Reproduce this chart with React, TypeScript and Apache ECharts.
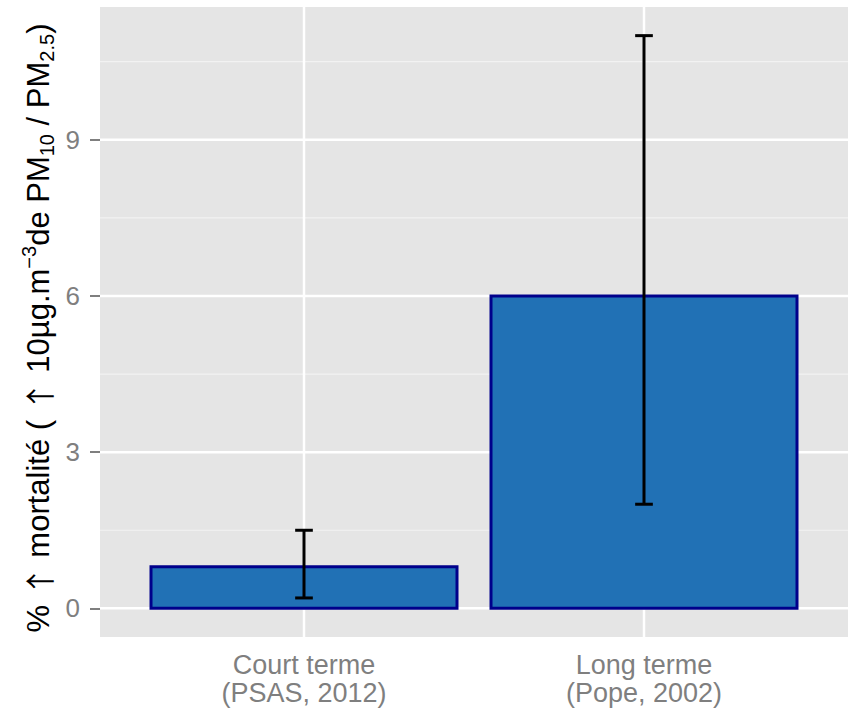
import React, { useEffect, useRef } from "react";
import * as echarts from "echarts";

const categories = ["Court terme\n(PSAS, 2012)", "Long terme\n(Pope, 2002)"];
const xPositions = [1, 2];
const values = [0.8, 6];
const errLow = [0.2, 2];
const errHigh = [1.5, 11];
const yMajorTicks = [0, 3, 6, 9];
const yMinorTicks = [1.5, 4.5, 7.5, 10.5];

const FONT = "Liberation Sans, Arial, sans-serif";

export default function App() {
  const ref = useRef<HTMLDivElement>(null);
  useEffect(() => {
    if (!ref.current) return;
    const chart = echarts.init(ref.current, null, { renderer: "svg" });
    const barData = xPositions.map((x, i) => [x, values[i]]);
    const errData = xPositions.map((x, i) => [x, errLow[i], errHigh[i]]);
    const gridData = [
      ...yMinorTicks.map((v) => [0, v, 0]),
      ...yMajorTicks.map((v) => [0, v, 1]),
      ...xPositions.map((v) => [1, v, 1]),
    ];
    const option: any = {
      animation: false,
      textStyle: { fontFamily: FONT },
      grid: {
        left: 100,
        right: 1,
        top: 7,
        bottom: 74,
        show: true,
        backgroundColor: "#E5E5E5",
        borderWidth: 0,
      },
      xAxis: {
        type: "value",
        min: 0.4,
        max: 2.6,
        axisLine: { show: false },
        splitLine: { show: false },
        axisTick: {
          show: true,
          customValues: xPositions,
          length: 10,
          lineStyle: { color: "#7F7F7F", width: 2 },
        },
        axisLabel: {
          customValues: xPositions,
          formatter: (v: number) => categories[Math.round(v) - 1] ?? "",
          color: "#7F7F7F",
          fontSize: 27,
          lineHeight: 28,
          margin: 14,
          fontFamily: FONT,
        },
      },
      yAxis: {
        type: "value",
        min: -0.55,
        max: 11.55,
        axisLine: { show: false },
        splitLine: { show: false },
        axisTick: {
          show: true,
          customValues: yMajorTicks,
          length: 10,
          lineStyle: { color: "#7F7F7F", width: 2 },
        },
        axisLabel: {
          customValues: yMajorTicks,
          color: "#7F7F7F",
          fontSize: 26,
          margin: 20,
          fontFamily: FONT,
        },
      },
      graphic: [
        {
          type: "text",
          x: 38,
          y: 328,
          rotation: Math.PI / 2,
          style: {
            text: "% {arr|\u2191} mortalité ( {arr|\u2191} 10µg.m{sup|\u22123}de PM{sub|10} / PM{sub|2.5})",
            font: `31px ${FONT}`,
            fill: "#000000",
            align: "center",
            verticalAlign: "middle",
            lineHeight: 38,
            rich: {
              arr: { fontSize: 30, fontFamily: "Noto Sans CJK SC", fill: "#000", lineHeight: 38 },
              sup: { fontSize: 20, fontFamily: FONT, verticalAlign: "top", lineHeight: 20, fill: "#000" },
              sub: { fontSize: 20, fontFamily: FONT, verticalAlign: "bottom", lineHeight: 20, fill: "#000" },
            },
          },
        },
      ],
      series: [
        {
          type: "custom",
          z: 1,
          silent: true,
          data: gridData,
          renderItem: (params: any, api: any) => {
            const dir = api.value(0);
            const v = api.value(1);
            const major = api.value(2) === 1;
            const cs = params.coordSys;
            const style = { stroke: major ? "#FFFFFF" : "#F2F2F2", lineWidth: major ? 2.5 : 1.2 };
            if (dir === 0) {
              const p = api.coord([1, v]);
              return { type: "line", shape: { x1: cs.x, y1: p[1], x2: cs.x + cs.width, y2: p[1] }, style };
            }
            const p = api.coord([v, 0]);
            return { type: "line", shape: { x1: p[0], y1: cs.y, x2: p[0], y2: cs.y + cs.height }, style };
          },
        },
        {
          type: "custom",
          z: 3,
          data: barData,
          renderItem: (params: any, api: any) => {
            const x = api.value(0);
            const y = api.value(1);
            const p1 = api.coord([x - 0.45, y]);
            const p2 = api.coord([x + 0.45, 0]);
            return {
              type: "rect",
              shape: { x: p1[0], y: p1[1], width: p2[0] - p1[0], height: p2[1] - p1[1] },
              style: { fill: "#2171B5", stroke: "#00008B", lineWidth: 3 },
            };
          },
        },
        {
          type: "custom",
          z: 4,
          data: errData,
          renderItem: (params: any, api: any) => {
            const x = api.value(0);
            const lo = api.value(1);
            const hi = api.value(2);
            const pLo = api.coord([x, lo]);
            const pHi = api.coord([x, hi]);
            const l1 = api.coord([x - 0.026, lo]);
            const r1 = api.coord([x + 0.026, lo]);
            const l2 = api.coord([x - 0.026, hi]);
            const r2 = api.coord([x + 0.026, hi]);
            return {
              type: "group",
              children: [
                { type: "line", shape: { x1: pLo[0], y1: pLo[1], x2: pHi[0], y2: pHi[1] }, style: { stroke: "#000", lineWidth: 3 } },
                { type: "line", shape: { x1: l1[0], y1: l1[1], x2: r1[0], y2: r1[1] }, style: { stroke: "#000", lineWidth: 3 } },
                { type: "line", shape: { x1: l2[0], y1: l2[1], x2: r2[0], y2: r2[1] }, style: { stroke: "#000", lineWidth: 3 } },
              ],
            };
          },
        },
      ],
    };
    chart.setOption(option);
    return () => chart.dispose();
  }, []);
  return <div ref={ref} style={{ width: 849, height: 711, position: "absolute", left: 0, top: 0 }} />;
}
